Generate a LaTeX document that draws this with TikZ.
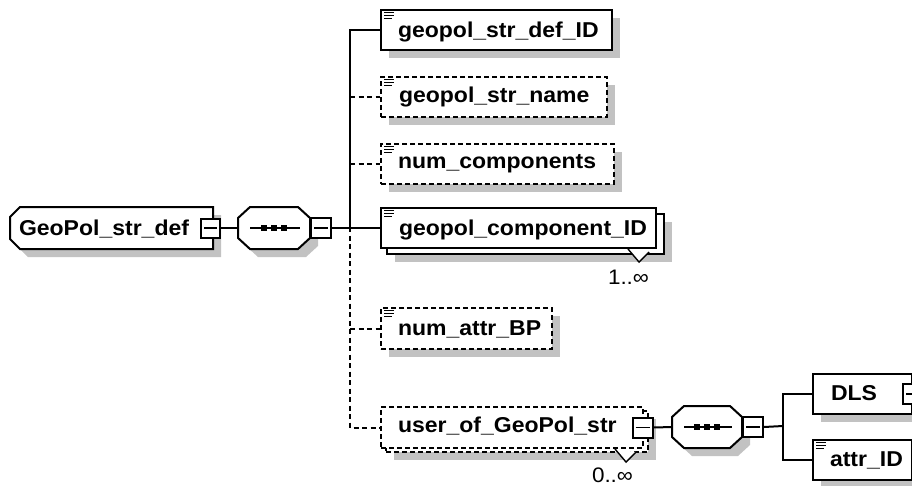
\documentclass[tikz,border=0pt]{standalone}
\usepackage{fontspec}
\setmainfont{Liberation Sans}
\newfontfamily\xsdfont[FakeStretch=1.07]{Liberation Sans}
\usetikzlibrary{calc,shadows}
\definecolor{shadowgray}{RGB}{194,194,194}
\tikzset{
  elbox/.style={draw, fill=white, inner sep=0pt, anchor=north west},
  optbox/.style={elbox, dash pattern=on 5pt off 3pt},
  shad/.style={drop shadow={shadow xshift=8pt, shadow yshift=-8pt, fill=shadowgray, opacity=1}},
  lbl/.style={font=\xsdfont\bfseries\fontsize{21.5}{24}\selectfont, inner sep=0pt, anchor=base west},
  mult/.style={font=\xsdfont\fontsize{21}{23}\selectfont, inner sep=0pt, anchor=base east},
  conn/.style={line width=2pt},
  optconn/.style={conn, dash pattern=on 5pt off 3.5pt},
  ctrl/.style={draw, fill=white, inner sep=0pt, minimum width=20pt, minimum height=20pt, line width=2pt},
  shapebox/.style={inner sep=0pt, anchor=north west},
}
\newcommand{\seqshape}[1]{%
  \path[draw, fill=white, shad] ([xshift=12pt]#1.north west) -- ([xshift=-12pt]#1.north east) -- ([yshift=-11pt]#1.north east) -- ([yshift=11pt]#1.south east) -- ([xshift=-12pt]#1.south east) -- ([xshift=12pt]#1.south west) -- ([yshift=11pt]#1.south west) -- ([yshift=-11pt]#1.north west) -- cycle;
  \draw[line width=1.8pt] ([xshift=12pt]#1.west) -- ([xshift=-10pt]#1.east);
  \foreach \dx in {-10pt,0pt,10pt}{\fill ([xshift=\dx]#1.center) +(-3,-3) rectangle +(3,3);}
}
\newcommand{\minussign}[1]{\draw[line width=1.6pt] ([xshift=4pt]#1.west) -- ([xshift=-4pt]#1.east);}
\newcommand{\plussign}[1]{\minussign{#1}\draw[line width=1.6pt] ([yshift=-4pt]#1.north) -- ([yshift=4pt]#1.south);}
\newcommand{\elicon}[1]{\foreach \dy/\len in {3.5/10,6.5/10,9.5/8}{\draw[line width=1.5pt] ([shift={(4,\dy)}]#1.north west) -- ++(\len,0);}}
\newcommand{\multmark}[1]{\path[fill=white] ([xshift=-29pt]#1.south east) -- ([shift={(-18,13)}]#1.south east) -- ([shift={(-8,3)}]#1.south east) -- cycle;
  \draw[line width=1.4pt] ([xshift=-29pt]#1.south east) -- ([shift={(-18,13)}]#1.south east) -- ([shift={(-8,3)}]#1.south east);}
\begin{document}
\begin{tikzpicture}[x=1pt,y=-1pt,line width=2pt]
\useasboundingbox (0,0) rectangle (912,485);
\clip (0,0) rectangle (912,485);

% root element
\node[shapebox, minimum width=201pt, minimum height=40pt] (root) at (10,207) {};
\path[draw, fill=white, shad] ([xshift=10pt]root.north west) -- (root.north east) -- (root.south east) -- ([xshift=10pt]root.south west) -- ([yshift=10pt]root.south west) -- ([yshift=-10pt]root.north west) -- cycle;
\node[lbl] (roott) at (18,235) {GeoPol\_str\_def};
\node[ctrl, minimum width=19pt, minimum height=19pt] (rm) at ([xshift=-2.5pt]root.east) {};
\minussign{rm}

% first sequence
\node[shapebox, minimum width=70pt, minimum height=40pt] (s1) at (238,207) {};
\seqshape{s1}
\node[ctrl, anchor=west] (m1) at (s1.east) {};
\minussign{m1}

% children
\node[elbox, shad, minimum width=231pt, minimum height=40pt] (e1) at (380,9) {};
\elicon{e1}
\node[lbl] (e1t) at (397,37.5) {geopol\_str\_def\_ID};

\node[optbox, shad, minimum width=226pt, minimum height=40pt] (e2) at (380,76) {};
\elicon{e2}
\node[lbl] (e2t) at (398,102) {geopol\_str\_name};

\node[optbox, shad, minimum width=233pt, minimum height=40pt] (e3) at (380,143) {};
\elicon{e3}
\node[lbl] (e3t) at (397,168) {num\_components};

\node[elbox, shad, minimum width=277pt, minimum height=40pt] (b4) at (386,213) {};
\node[elbox, minimum width=275pt, minimum height=40pt] (e4) at (380,207) {};
\elicon{e4}
\node[lbl] (e4t) at (398,235) {geopol\_component\_ID};
\multmark{e4}
\node[mult] (e4m) at ([shift={(-15,29)}]b4.south east) {1..∞};

\node[optbox, shad, minimum width=171pt, minimum height=41pt] (e5) at (380,307) {};
\elicon{e5}
\node[lbl] (e5t) at (397,335) {num\_attr\_BP};

\node[optbox, shad, minimum width=262pt, minimum height=41pt] (b6) at (385,410) {};
\node[optbox, minimum width=262pt, minimum height=41pt] (e6) at (380,406) {};
\node[lbl] (e6t) at (397,432) {user\_of\_GeoPol\_str};
\multmark{e6}
\node[mult] (e6m) at ([shift={(-15,29)}]b6.south east) {0..∞};
\node[ctrl] (m6) at ([xshift=-1.5pt]e6.east) {};
\minussign{m6}

% second sequence
\node[shapebox, minimum width=68pt, minimum height=40pt] (s2) at (672,406) {};
\seqshape{s2}
\node[ctrl, anchor=west] (m7) at (s2.east) {};
\minussign{m7}

\node[elbox, shad, minimum width=99pt, minimum height=40pt] (dls) at (812,373) {};
\node[lbl] (dlst) at (830,400) {DLS};
\node[ctrl] (dlsp) at (dls.east) {};
\plussign{dlsp}

\node[elbox, shad, minimum width=99pt, minimum height=40pt] (attr) at (812,439) {};
\elicon{attr}
\node[lbl] (attrt) at (829,466) {attr\_ID};

% connectors
\coordinate (tr) at (350,227);
\coordinate (br) at (783,426);
\draw[conn] (rm.east) -- (s1.west);
\draw[conn] (m1.east) -- (e4.west);
\draw[conn] (e1.west) -- (e1.west -| tr) -- (tr);
\draw[optconn] (e2.west -| tr) -- (e2.west);
\draw[optconn] (e3.west -| tr) -- (e3.west);
\draw[optconn] (e5.west -| tr) -- (e5.west);
\draw[optconn] (tr) -- (tr |- e6.west) -- (e6.west);
\draw[conn] (m6.east) -- (s2.west);
\draw[conn] (m7.east) -- (br);
\draw[conn] (dls.west) -- (dls.west -| br) -- (attr.west -| br) -- (attr.west);
\end{tikzpicture}
\end{document}
